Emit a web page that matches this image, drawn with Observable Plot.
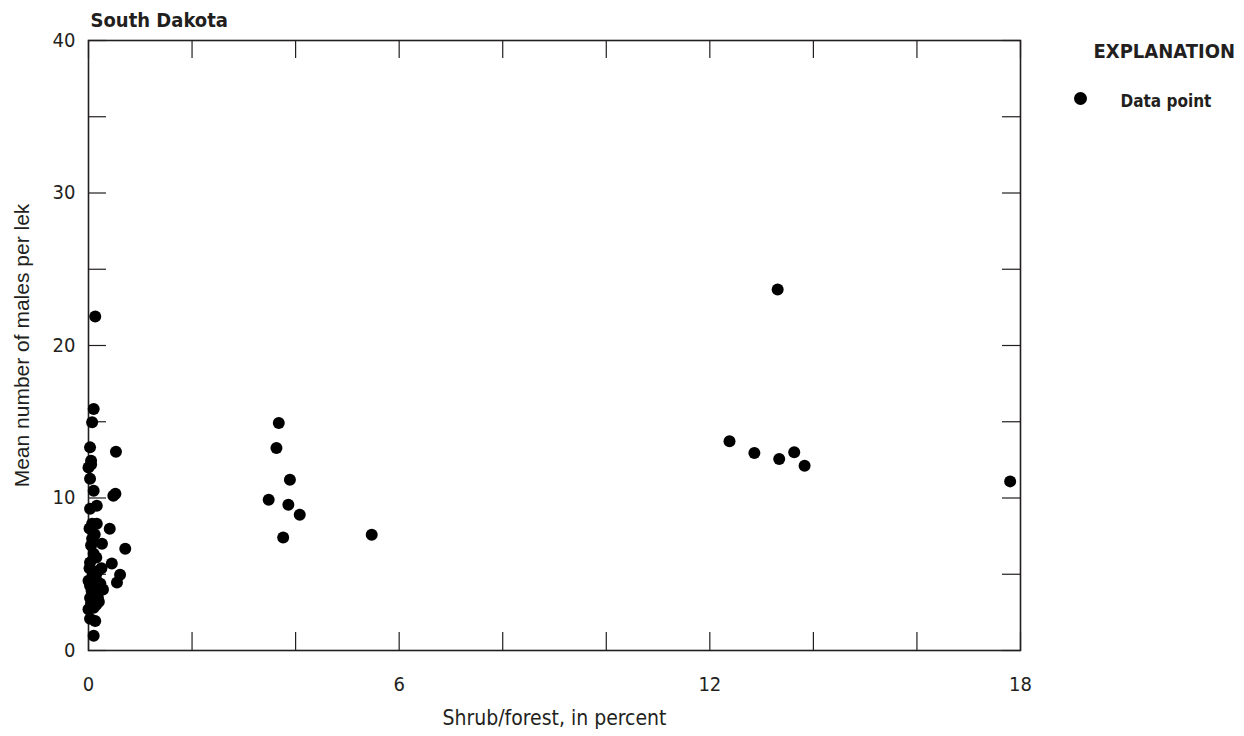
<!DOCTYPE html>
<html>
<head>
<meta charset="utf-8">
<script src="https://cdn.jsdelivr.net/npm/d3@7"></script>
<script src="https://cdn.jsdelivr.net/npm/@observablehq/plot@0.6"></script>
<style>
  html, body { margin: 0; padding: 0; background: #fff; }
  #chart { width: 1244px; height: 736px; }
  #chart svg text { font-stretch: condensed; }
  #chart svg .reg text { font-stretch: normal; }
</style>
</head>
<body>
<div id="chart"></div>
<script>
// Shrub/forest (percent) and mean number of males per lek, South Dakota
const shrubForest = [
  0.13, 0.10, 0.07, 0.53, 0.03, 0.05, 0.00, 0.03, 0.10, 0.48, 0.52, 0.16, 0.03, 0.07, 0.16, 0.41,
  0.07, 0.26, 0.71, 0.10, 0.45, 0.03, 0.61, 0.55, 0.23, 0.03, 0.00, 0.13, 0.03, 0.10, 0.03, 0.13, 0.10,
  0.05, 0.02, 0.12, 0.05, 0.15, 0.02, 0.18, 0.08, 0.14, 0.20, 0.06, 0.18, 0.05, 0.15, 0.00, 0.25, 0.28, 0.20,
  3.675, 3.63, 3.89, 3.48, 3.86, 4.08, 3.76, 5.47,
  13.31, 12.38, 12.86, 13.34, 13.63, 13.83, 17.80
];
const malesPerLek = [
  21.9, 15.84, 14.96, 13.04, 13.32, 12.45, 12.0, 11.27, 10.48, 10.15, 10.28, 9.49, 9.3, 8.31, 8.31, 7.98,
  7.33, 7.0, 6.67, 6.34, 5.7, 5.77, 4.96, 4.46, 4.37, 4.24, 4.57, 3.72, 3.45, 2.8, 2.08, 1.94, 0.96,
  12.2, 8.0, 7.6, 6.9, 6.1, 5.4, 5.2, 5.0, 4.8, 4.1, 3.9, 3.5, 3.1, 3.0, 2.7, 5.4, 4.0, 3.2,
  14.92, 13.28, 11.2, 9.89, 9.56, 8.9, 7.41, 7.59,
  23.67, 13.72, 12.95, 12.56, 13.0, 12.12, 11.09
];
const xTickValues = [0, 2, 4, 6, 8, 10, 12, 14, 16, 18];
const xTickLabels = [0, 6, 12, 18];
const yTickValues = [0, 5, 10, 15, 20, 25, 30, 35, 40];
const yTickLabels = [0, 10, 20, 30, 40];

const title = "South Dakota";
const xLabel = "Shrub/forest, in percent";
const yLabel = "Mean number of males per lek";
const legendTitle = "EXPLANATION";
const legendItem = "Data point";

const points = shrubForest.map((x, i) => ({x, y: malesPerLek[i]}));

const W = 1244, H = 736;
const mL = 88, mR = 224, mT = 40, mB = 86;
const plotW = W - mL - mR, plotH = H - mT - mB;
const tickLen = 18;
const ink = "#231f20";
const narrow = "'Liberation Sans Narrow', 'DejaVu Sans Condensed', 'Arial Narrow', 'Liberation Sans', sans-serif";
const regular = "'Liberation Sans', Arial, sans-serif";

const chart = Plot.plot({
  width: W,
  height: H,
  marginLeft: mL,
  marginRight: mR,
  marginTop: mT,
  marginBottom: mB,
  style: {fontFamily: narrow, color: ink, background: "#fff", overflow: "visible"},
  x: {domain: [0, 18], axis: null},
  y: {domain: [0, 40], axis: null},
  marks: [
    Plot.tickX(xTickValues, {x: d => d, insetTop: plotH - tickLen, stroke: ink, strokeWidth: 1.2}),
    Plot.tickX(xTickValues, {x: d => d, insetBottom: plotH - tickLen, stroke: ink, strokeWidth: 1.2}),
    Plot.tickY(yTickValues, {y: d => d, insetRight: plotW - tickLen, stroke: ink, strokeWidth: 1.2}),
    Plot.tickY(yTickValues, {y: d => d, insetLeft: plotW - tickLen, stroke: ink, strokeWidth: 1.2}),
    Plot.frame({stroke: ink, strokeWidth: 1.6}),
    Plot.axisX(xTickLabels, {anchor: "bottom", tickSize: 0, tickPadding: 26, fontSize: 20, label: null, fill: ink}),
    Plot.axisY(yTickLabels, {anchor: "left", tickSize: 0, tickPadding: 13, fontSize: 20, label: null, fill: ink}),
    Plot.text([xLabel], {frameAnchor: "bottom", dy: 74, fontSize: 21, fill: ink}),
    Plot.text([yLabel], {frameAnchor: "left", dx: -66, rotate: -90, textAnchor: "middle", fontSize: 21, fontFamily: regular, fill: ink, className: "reg"}),
    Plot.text([title], {frameAnchor: "top-left", dx: 2, dy: -28, textAnchor: "start", fontSize: 20, fontWeight: "bold", fill: ink}),
    Plot.text([legendTitle], {frameAnchor: "top-right", dx: 73, dy: 3, textAnchor: "start", fontSize: 20, fontWeight: "bold", fill: ink}),
    Plot.dot([legendItem], {frameAnchor: "top-right", dx: 60, dy: 58, r: 6.5, fill: "#000", stroke: "none"}),
    Plot.text([legendItem], {frameAnchor: "top-right", dx: 100, dy: 54, textAnchor: "start", fontSize: 17, fontWeight: "bold", fill: ink}),
    Plot.dot(points, {x: "x", y: "y", r: 6, fill: "#000", stroke: "none"})
  ]
});
document.getElementById("chart").appendChild(chart);
</script>
</body>
</html>
